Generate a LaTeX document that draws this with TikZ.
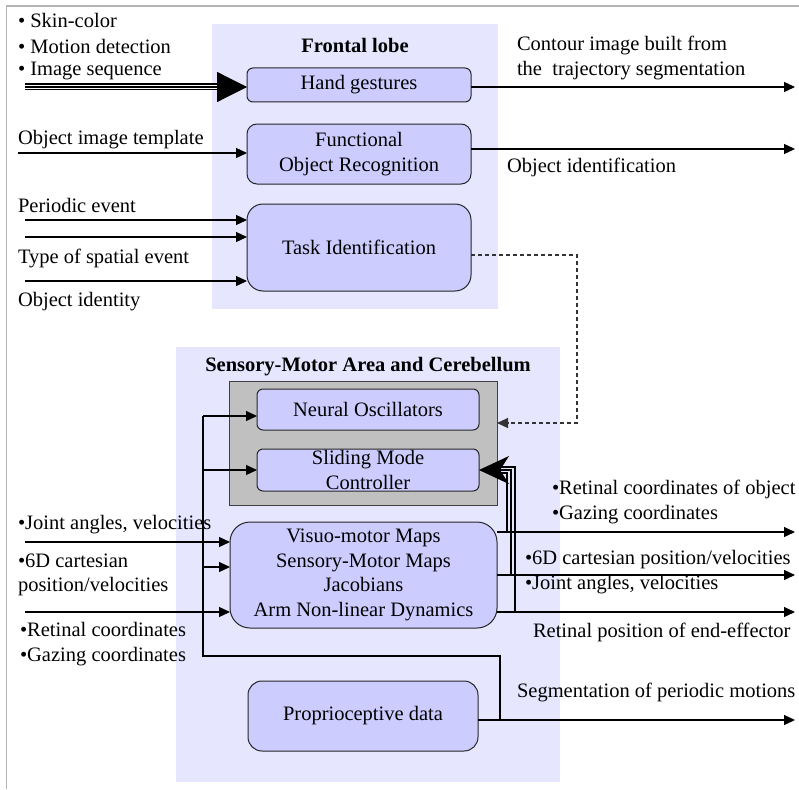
\documentclass[tikz,border=0pt]{standalone}
\usepackage{fontspec}
\setmainfont{Liberation Serif}
\usetikzlibrary{arrows.meta,calc}
\definecolor{areafill}{RGB}{230,230,255}
\definecolor{blockfill}{RGB}{204,204,255}
\definecolor{panelfill}{RGB}{192,192,192}
\definecolor{framegray}{RGB}{180,180,180}
\begin{document}
\begin{tikzpicture}[x=1pt,y=-1pt,
  every node/.style={font=\fontsize{20.5}{24.5}\selectfont, inner sep=0pt, outer sep=0pt},
  lab/.style={anchor=west, align=left},
  title/.style={font=\fontsize{20.5}{24.5}\selectfont\bfseries},
  blk/.style={draw=black!85, line width=1pt, fill=blockfill, align=center},
  link/.style={line width=1.2pt, -{Triangle[length=11pt,width=10pt]}},
  plain/.style={line width=1.2pt},
  fb/.style={line width=1.1pt, dash pattern=on 4pt off 3pt, draw=black!80,
             -{Triangle[length=11pt,width=10pt]}},
]
\useasboundingbox (0,0) rectangle (799,789);
\fill[white] (0,0) rectangle (799,789);

% page frame
\draw[framegray, line width=1.5pt] (6.5,789) -- (6.5,6) -- (799,6);

% shaded areas
\fill[areafill] (212,24) rectangle (498,309);
\fill[areafill] (176,347) rectangle (560,782);
\draw[draw=black!75, line width=1pt, fill=panelfill] (229,381) rectangle (497,505);

% titles
\node[title] (ftitle) at (355,45) {Frontal lobe};
\node[title] (stitle) at (368,367) {Sensory-Motor Area and Cerebellum};

% frontal lobe blocks
\node[blk, rounded corners=6pt, minimum width=224pt, minimum height=34pt] (hand) at (359,85) {Hand gestures};
\node[blk, rounded corners=10pt, minimum width=224pt, minimum height=60pt] (func) at (359,154) {Functional\\Object Recognition};
\node[blk, rounded corners=16pt, minimum width=224pt, minimum height=87pt] (task) at (359,247.5) {Task Identification};

% sensory-motor blocks
\node[blk, rounded corners=6pt, minimum width=222pt, minimum height=41pt] (osc) at (368,409.5) {Neural Oscillators};
\node[blk, rounded corners=6pt, minimum width=222pt, minimum height=42pt] (smc) at (368,470) {Sliding Mode\\Controller};
\node[blk, rounded corners=20pt, minimum width=267pt, minimum height=106pt] (maps) at (363.5,575)
  {Visuo-motor Maps\\Sensory-Motor Maps\\Jacobians\\Arm Non-linear Dynamics};
\node[blk, rounded corners=14pt, minimum width=230pt, minimum height=70pt] (prop) at (363,716) {Proprioceptive data};

% left-hand labels
\node[lab] (l1) at (18,20) {\textbullet\ Skin-color};
\node[lab] (l2) at (18,46) {\textbullet\ Motion detection};
\node[lab] (l3) at (18,71) {\textbullet\ Image sequence};
\node[lab] (l4) at (18,140) {Object image template};
\node[lab] (l5) at (18,205) {Periodic event};
\node[lab] (l6) at (18,258) {Type of spatial event};
\node[lab] (l7) at (18,302) {Object identity};
\node[lab] (l8) at (18,525) {\textbullet Joint angles, velocities};
\node[lab] (l9) at (18,575) {\textbullet 6D cartesian\\position/velocities};
\node[lab] (l10) at (20,644) {\textbullet Retinal coordinates\\\textbullet Gazing coordinates};

% right-hand labels
\node[lab] (r1) at (517,58) {Contour image built from\\the \ trajectory segmentation};
\node[lab] (r2) at (507,167) {Object identification};
\node[lab] (r3) at (552,502) {\textbullet Retinal coordinates of object\\\textbullet Gazing coordinates};
\node[lab] (r4) at (525,572) {\textbullet 6D cartesian position/velocities\\\textbullet Joint angles, velocities};
\node[lab] (r5) at (533,632) {Retinal position of end-effector};
\node[lab] (r6) at (517,692) {Segmentation of periodic motions};

% input ends
\coordinate (inImg) at (25,87);
\coordinate (inTpl) at (18,153);
\coordinate (inT1) at (25,220);
\coordinate (inT2) at (25,237);
\coordinate (inT3) at (25,281);
\coordinate (inM1) at (25,542);
\coordinate (inM3) at (25,612);

% output ends
\coordinate (outHand) at (795,87);
\coordinate (outFunc) at (795,149);
\coordinate (outM1) at (795,532);
\coordinate (outM2) at (795,575);
\coordinate (outM3) at (795,612);
\coordinate (outProp) at (795,720);

% branch points
\coordinate (j1) at (507,532);
\coordinate (j2) at (511,575);
\coordinate (j3) at (515,612);
\coordinate (jp) at (500,720);
\coordinate (fbL) at (203,656);
\coordinate (fbR) at (500,656);
\coordinate (fbTop) at (203,416);
\coordinate (dk1) at (577,255);
\coordinate (dk2) at (577,423);

% image-sequence bundle into hand gestures
\draw[line width=1.2pt, double distance=4.6pt, shorten >=29pt] (inImg) -- (hand.west |- inImg);
\draw[line width=1.2pt, -{Triangle[length=30pt,width=30pt]}] (inImg) -- (hand.west |- inImg);

% frontal lobe inputs and outputs
\draw[link] (inTpl) -- (func.west |- inTpl);
\draw[link] (inT1) -- (task.west |- inT1);
\draw[link] (inT2) -- (task.west |- inT2);
\draw[link] (inT3) -- (task.west |- inT3);
\draw[link] (hand.east |- outHand) -- (outHand);
\draw[link] (func.east |- outFunc) -- (outFunc);

% task identification feeds the oscillators (dashed)
\draw[fb] (task.east |- dk1) -- (dk1) -- (dk2) -- (497,423);

% inputs of the map block
\draw[link] (inM1) -- (maps.west |- inM1);
\draw[link] (inM3) -- (maps.west |- inM3);

% proprioceptive feedback loop
\draw[plain] (jp) -- (fbR) -- (fbL) -- (fbTop);
\draw[link] (fbTop) -- (osc.west |- fbTop);
\draw[link] (fbL |- smc.west) -- (smc.west);
\draw[link] (fbL |- 0,567) -- (maps.west |- 0,567);

% outputs of the map block
\draw[link] (maps.east |- outM1) -- (outM1);
\draw[link] (maps.east |- outM2) -- (outM2);
\draw[link] (maps.east |- outM3) -- (outM3);
\draw[link] (prop.east |- outProp) -- (outProp);

% bundle back into the sliding mode controller
\draw[line width=1.1pt] (j1) |- ($(smc.east)+(14,3)$);
\draw[line width=1.1pt] (j3) |- ($(smc.east)+(14,-3)$);
\draw[line width=1.1pt, -{Stealth[length=30pt,width=28pt,inset=9pt]}] (j2) |- (smc.east);
\end{tikzpicture}
\end{document}
